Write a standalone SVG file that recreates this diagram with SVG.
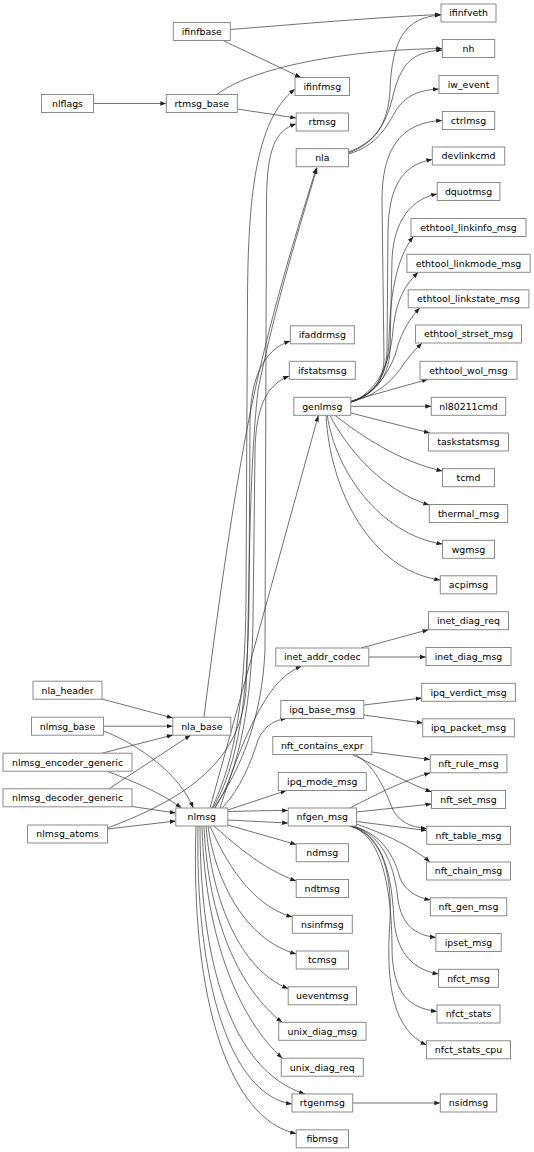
<svg xmlns="http://www.w3.org/2000/svg" width="534" height="1152" viewBox="0 0 534 1152">
<defs>
<marker id="a" viewBox="0 0 10 10" refX="10" refY="5" markerWidth="6" markerHeight="6" orient="auto" markerUnits="userSpaceOnUse"><path d="M0,1.3 L10,5 L0,8.7z" fill="#222"/></marker>
</defs>
<style>
.n rect{fill:#fff;stroke:#8a8a8a;stroke-width:1}
.n text{font-family:"DejaVu Sans",Verdana,sans-serif;font-size:9.4px;text-anchor:middle;fill:#000}
#edges path{fill:none;stroke:#333;stroke-width:0.7;marker-end:url(#a)}
</style>
<rect width="534" height="1152" fill="#fff"/>
<g id="edges">
<path d="M93.5,103.5 L166.3,103.5"/>
<path d="M230.3,29.5 C300,24 380,17 441,14.5"/>
<path d="M223,40.5 L301,77.5"/>
<path d="M217,94.5 C245,72 330,50 442.3,48.5"/>
<path d="M237.3,109 L296.2,118"/>
<path d="M348.5,152 C375,142 388,125 390,90 C392,40 405,17 441,15"/>
<path d="M348.5,153 C375,143 385,125 392,100 C400,65 410,52 442.3,50"/>
<path d="M348.5,154 C375,146 385,130 395,112 C405,95 420,90 439,89"/>
<path d="M204,717 C215,630 235,480 255,390 C275,300 300,220 316.5,167.5"/>
<path d="M107.5,828 C190,797 240,760 246,690 C250,600 248,480 258,390 C276,302 301,222 317,168"/>
<path d="M212,808 C235,760 245,700 246,600 L247.5,300 C248,200 255,120 295,89"/>
<path d="M214,808 C240,770 262,720 265,650 L266.5,200 C267,150 275,130 296.2,124"/>
<path d="M213,808 C238,765 248,700 249,600 L250,420 C251,380 262,350 290.3,341"/>
<path d="M215,808 C240,770 252,700 253,620 L255,450 C256,410 265,385 289.3,376"/>
<path d="M210,808 L318.3,415.5"/>
<path d="M220,808 C232,770 250,720 272,690 C282,677 292,670 301.5,666"/>
<path d="M222,808 C240,790 252,760 258,740 C265,725 275,720 286.5,718.5"/>
<path d="M227.8,810 L286.5,790.5"/>
<path d="M227.8,811.5 C250,811 265,810.5 288.2,810.5"/>
<path d="M227.8,820 C250,821 265,822 288.2,823"/>
<path d="M227.8,825 L296.2,844.5"/>
<path d="M214,826 C230,840 260,868 296.2,881"/>
<path d="M210,826 C225,860 250,905 292.3,917"/>
<path d="M208,826 C215,880 245,940 296.2,954"/>
<path d="M206,826 C212,900 240,970 288.2,988.5"/>
<path d="M204,826 C208,920 240,990 282.3,1022.3"/>
<path d="M202,826 C205,940 240,1020 282.3,1058.2"/>
<path d="M200,826 C200,960 230,1070 305,1094"/>
<path d="M198,826 C195,980 230,1095 292,1104"/>
<path d="M196,826 C190,1000 230,1120 296.2,1133.5"/>
<path d="M103.5,726.2 L172.8,726.2"/>
<path d="M102,699 L172.8,718"/>
<path d="M102,753.2 L172.8,735"/>
<path d="M109,788.8 L190.7,735"/>
<path d="M103.5,731 C140,745 180,775 193.3,808"/>
<path d="M107,771.2 C130,780 160,792 181.5,808"/>
<path d="M132,806.5 L175.8,813"/>
<path d="M107.5,829 L175.8,821"/>
<path d="M350.8,402 C370,395 383,385 384,360 L382,200 C382,150 400,122 442.3,120.5"/>
<path d="M350.8,402 C372,395 386,380 387,350 L388,230 C389,190 400,165 432.3,159.5"/>
<path d="M350.8,402 C372,395 389,380 390,350 L392,260 C393,230 405,200 437.2,194"/>
<path d="M350.8,402 C372,395 388,380 389,340 C390,300 395,260 413.3,236.5"/>
<path d="M350.8,402 C372,395 390,370 393,330 C396,300 405,285 418.3,272.3"/>
<path d="M350.8,402 C375,395 392,370 398,345 C403,330 410,318 420,307.8"/>
<path d="M350.8,402 C378,395 393,380 403,365 C410,355 415,350 422,343"/>
<path d="M350.8,401 L428,379.3"/>
<path d="M350.8,406.3 L431.3,406.3"/>
<path d="M350.8,413 L430,433"/>
<path d="M335,415.3 C360,435 400,462 442.5,471"/>
<path d="M330,415.3 C345,445 380,490 429.3,505"/>
<path d="M327.3,415.3 C335,470 380,535 442.5,544"/>
<path d="M326,415.3 C330,490 370,570 440.3,580"/>
<path d="M361,648 L428.5,629.7"/>
<path d="M368.8,657 L426,657"/>
<path d="M363.8,705 L421.7,698"/>
<path d="M363.8,715 L422.7,723"/>
<path d="M371.8,752 L430.2,759.5"/>
<path d="M352,754.5 C375,765 405,782 431.5,792"/>
<path d="M355,754.5 C375,765 385,790 393,810 C400,822 410,827 426.7,828.5"/>
<path d="M350,808 C375,795 400,782 430.2,772.8"/>
<path d="M356.5,812 L431.5,804"/>
<path d="M356.5,821.5 L426.7,830.5"/>
<path d="M356,824 C380,832 410,845 430,862"/>
<path d="M353,826 C385,835 395,860 400,878 C405,890 415,897 430.4,900"/>
<path d="M352,826 C385,835 395,870 398,900 C402,925 415,935 435.9,937.5"/>
<path d="M351,826 C385,835 392,880 394,920 C397,955 415,970 438.5,974"/>
<path d="M350,826 C385,835 392,900 392,950 C393,995 410,1008 437,1011.5"/>
<path d="M349,826 C385,835 392,880 390,920 C385,990 395,1030 426.5,1045"/>
<path d="M352.3,1103 L440.3,1103"/>
</g>
<g id="nlflags" class="n"><rect x="41.5" y="94.5" width="52" height="18"/><text x="67.5" y="106.8">nlflags</text></g>
<g id="nla_header" class="n"><rect x="33" y="681.2" width="69" height="18"/><text x="67.5" y="693.5">nla_header</text></g>
<g id="nlmsg_base" class="n"><rect x="31.5" y="717.2" width="72" height="18"/><text x="67.5" y="729.5">nlmsg_base</text></g>
<g id="nlmsg_encoder_generic" class="n"><rect x="3" y="753.2" width="129" height="18"/><text x="67.5" y="765.5">nlmsg_encoder_generic</text></g>
<g id="nlmsg_decoder_generic" class="n"><rect x="3" y="788.8" width="129" height="18"/><text x="67.5" y="801.1">nlmsg_decoder_generic</text></g>
<g id="nlmsg_atoms" class="n"><rect x="27.5" y="825" width="80" height="18"/><text x="67.5" y="837.3">nlmsg_atoms</text></g>
<g id="ifinfbase" class="n"><rect x="173.3" y="22.5" width="57" height="18"/><text x="201.8" y="34.8">ifinfbase</text></g>
<g id="rtmsg_base" class="n"><rect x="166.3" y="94.5" width="71" height="18"/><text x="201.8" y="106.8">rtmsg_base</text></g>
<g id="nla_base" class="n"><rect x="172.8" y="717.2" width="58" height="18"/><text x="201.8" y="729.5">nla_base</text></g>
<g id="nlmsg" class="n"><rect x="175.8" y="808" width="52" height="18"/><text x="201.8" y="820.3">nlmsg</text></g>
<g id="ifinfmsg" class="n"><rect x="295" y="77.5" width="54.5" height="18"/><text x="322.3" y="89.8">ifinfmsg</text></g>
<g id="rtmsg" class="n"><rect x="296.2" y="113" width="52.3" height="18"/><text x="322.3" y="125.3">rtmsg</text></g>
<g id="nla" class="n"><rect x="296.2" y="148.7" width="52.3" height="18"/><text x="322.3" y="161">nla</text></g>
<g id="ifaddrmsg" class="n"><rect x="290.3" y="325.8" width="64" height="18"/><text x="322.3" y="338.1">ifaddrmsg</text></g>
<g id="ifstatsmsg" class="n"><rect x="289.3" y="361.3" width="66" height="18"/><text x="322.3" y="373.6">ifstatsmsg</text></g>
<g id="genlmsg" class="n"><rect x="293.8" y="397.3" width="57" height="18"/><text x="322.3" y="409.6">genlmsg</text></g>
<g id="inet_addr_codec" class="n"><rect x="275.8" y="648" width="93" height="18"/><text x="322.3" y="660.3">inet_addr_codec</text></g>
<g id="ipq_base_msg" class="n"><rect x="280.8" y="700.5" width="83" height="18"/><text x="322.3" y="712.8">ipq_base_msg</text></g>
<g id="nft_contains_expr" class="n"><rect x="272.8" y="736.5" width="99" height="18"/><text x="322.3" y="748.8">nft_contains_expr</text></g>
<g id="ipq_mode_msg" class="n"><rect x="278.3" y="772.5" width="88" height="18"/><text x="322.3" y="784.8">ipq_mode_msg</text></g>
<g id="nfgen_msg" class="n"><rect x="288.2" y="808" width="68.3" height="18"/><text x="322.3" y="820.3">nfgen_msg</text></g>
<g id="ndmsg" class="n"><rect x="296.2" y="843.7" width="52.3" height="18"/><text x="322.3" y="856">ndmsg</text></g>
<g id="ndtmsg" class="n"><rect x="296.2" y="879.5" width="52.3" height="18"/><text x="322.3" y="891.8">ndtmsg</text></g>
<g id="nsinfmsg" class="n"><rect x="292.3" y="915.3" width="60" height="18"/><text x="322.3" y="927.6">nsinfmsg</text></g>
<g id="tcmsg" class="n"><rect x="296.2" y="951" width="52.3" height="18"/><text x="322.3" y="963.3">tcmsg</text></g>
<g id="ueventmsg" class="n"><rect x="288.2" y="986.8" width="68.3" height="18"/><text x="322.3" y="999.1">ueventmsg</text></g>
<g id="unix_diag_msg" class="n"><rect x="278.7" y="1022.3" width="87.3" height="18"/><text x="322.3" y="1034.6">unix_diag_msg</text></g>
<g id="unix_diag_req" class="n"><rect x="281.3" y="1058.2" width="82" height="18"/><text x="322.3" y="1070.5">unix_diag_req</text></g>
<g id="rtgenmsg" class="n"><rect x="292" y="1094" width="60.7" height="18"/><text x="322.3" y="1106.3">rtgenmsg</text></g>
<g id="fibmsg" class="n"><rect x="296.2" y="1129.8" width="52.3" height="18"/><text x="322.3" y="1142.1">fibmsg</text></g>
<g id="ifinfveth" class="n"><rect x="441" y="4" width="55" height="18"/><text x="468.5" y="16.3">ifinfveth</text></g>
<g id="nh" class="n"><rect x="442.3" y="39.5" width="52.4" height="18"/><text x="468.5" y="51.8">nh</text></g>
<g id="iw_event" class="n"><rect x="439" y="75.5" width="59" height="18"/><text x="468.5" y="87.8">iw_event</text></g>
<g id="ctrlmsg" class="n"><rect x="442.3" y="111.5" width="52.4" height="18"/><text x="468.5" y="123.8">ctrlmsg</text></g>
<g id="devlinkcmd" class="n"><rect x="432.3" y="147" width="72.4" height="18"/><text x="468.5" y="159.3">devlinkcmd</text></g>
<g id="dquotmsg" class="n"><rect x="437.2" y="182.5" width="62.7" height="18"/><text x="468.5" y="194.8">dquotmsg</text></g>
<g id="ethtool_linkinfo_msg" class="n"><rect x="411" y="218.5" width="115" height="18"/><text x="468.5" y="230.8">ethtool_linkinfo_msg</text></g>
<g id="ethtool_linkmode_msg" class="n"><rect x="406.9" y="254.3" width="123.3" height="18"/><text x="468.5" y="266.6">ethtool_linkmode_msg</text></g>
<g id="ethtool_linkstate_msg" class="n"><rect x="408.2" y="289.8" width="120.7" height="18"/><text x="468.5" y="302.1">ethtool_linkstate_msg</text></g>
<g id="ethtool_strset_msg" class="n"><rect x="415.5" y="325" width="106" height="18"/><text x="468.5" y="337.3">ethtool_strset_msg</text></g>
<g id="ethtool_wol_msg" class="n"><rect x="420" y="361.3" width="97" height="18"/><text x="468.5" y="373.6">ethtool_wol_msg</text></g>
<g id="nl80211cmd" class="n"><rect x="431.3" y="397.3" width="74.4" height="18"/><text x="468.5" y="409.6">nl80211cmd</text></g>
<g id="taskstatsmsg" class="n"><rect x="428.5" y="433" width="80" height="18"/><text x="468.5" y="445.3">taskstatsmsg</text></g>
<g id="tcmd" class="n"><rect x="442.5" y="468.7" width="52" height="18"/><text x="468.5" y="481">tcmd</text></g>
<g id="thermal_msg" class="n"><rect x="429.3" y="504.5" width="78.4" height="18"/><text x="468.5" y="516.8">thermal_msg</text></g>
<g id="wgmsg" class="n"><rect x="442.5" y="540.3" width="52" height="18"/><text x="468.5" y="552.6">wgmsg</text></g>
<g id="acpimsg" class="n"><rect x="440.3" y="575.8" width="56.4" height="18"/><text x="468.5" y="588.1">acpimsg</text></g>
<g id="inet_diag_req" class="n"><rect x="428.5" y="611.7" width="80" height="18"/><text x="468.5" y="624">inet_diag_req</text></g>
<g id="inet_diag_msg" class="n"><rect x="426" y="647.5" width="85" height="18"/><text x="468.5" y="659.8">inet_diag_msg</text></g>
<g id="ipq_verdict_msg" class="n"><rect x="421.7" y="683.3" width="93.7" height="18"/><text x="468.5" y="695.6">ipq_verdict_msg</text></g>
<g id="ipq_packet_msg" class="n"><rect x="422.7" y="718.8" width="91.7" height="18"/><text x="468.5" y="731.1">ipq_packet_msg</text></g>
<g id="nft_rule_msg" class="n"><rect x="430.2" y="754.8" width="76.7" height="18"/><text x="468.5" y="767.1">nft_rule_msg</text></g>
<g id="nft_set_msg" class="n"><rect x="431.5" y="790.5" width="74" height="18"/><text x="468.5" y="802.8">nft_set_msg</text></g>
<g id="nft_table_msg" class="n"><rect x="426.7" y="826.3" width="83.7" height="18"/><text x="468.5" y="838.6">nft_table_msg</text></g>
<g id="nft_chain_msg" class="n"><rect x="426.5" y="862" width="84" height="18"/><text x="468.5" y="874.3">nft_chain_msg</text></g>
<g id="nft_gen_msg" class="n"><rect x="430.4" y="897.8" width="76.3" height="18"/><text x="468.5" y="910.1">nft_gen_msg</text></g>
<g id="ipset_msg" class="n"><rect x="435.9" y="933.5" width="65.3" height="18"/><text x="468.5" y="945.8">ipset_msg</text></g>
<g id="nfct_msg" class="n"><rect x="438.5" y="969.3" width="60" height="18"/><text x="468.5" y="981.6">nfct_msg</text></g>
<g id="nfct_stats" class="n"><rect x="437" y="1005" width="63" height="18"/><text x="468.5" y="1017.3">nfct_stats</text></g>
<g id="nfct_stats_cpu" class="n"><rect x="426.5" y="1040.8" width="84" height="18"/><text x="468.5" y="1053.1">nfct_stats_cpu</text></g>
<g id="nsidmsg" class="n"><rect x="440.3" y="1094" width="56.4" height="18"/><text x="468.5" y="1106.3">nsidmsg</text></g>
</svg>
